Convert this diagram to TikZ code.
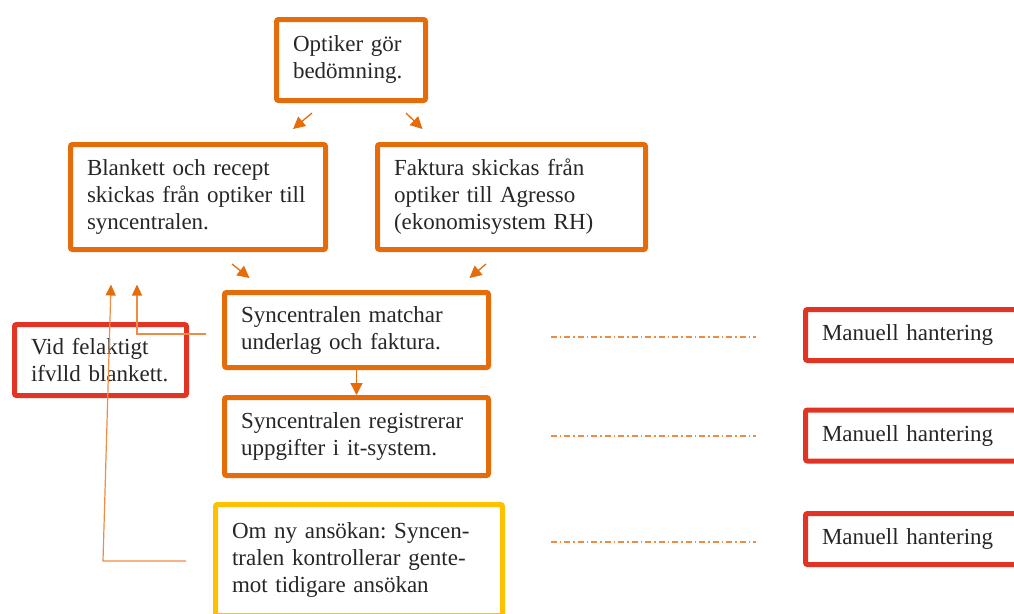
\documentclass[tikz,border=0pt]{standalone}
\usepackage{fontspec}
\setmainfont{Liberation Serif}
\usetikzlibrary{arrows.meta}
\definecolor{boxorange}{RGB}{228,108,10}
\definecolor{linkorange}{RGB}{238,140,70}
\definecolor{boxred}{RGB}{226,52,36}
\definecolor{boxyellow}{RGB}{255,192,0}
\frenchspacing

\begin{document}
\begin{tikzpicture}[x=1pt, y=-1pt, font=\fontsize{23}{27}\selectfont]
\tikzstyle{block}=[draw, line width=5pt, rounded corners=2pt, inner xsep=16.5pt, inner ysep=0pt, align=left, text=black!85]
\tikzstyle{Oblock}=[block, draw=boxorange]
\tikzstyle{Rblock}=[block, draw=boxred]
\tikzstyle{Yblock}=[block, draw=boxyellow]
\tikzstyle{Mblock}=[Rblock, text width=179pt, minimum height=51pt]
\tikzstyle{link}=[draw=boxorange, line width=1.3pt, -{Triangle[length=12pt,width=12pt]}]
\tikzstyle{back}=[draw=linkorange, line width=1.2pt, -{Triangle[length=11pt,width=10pt,color=boxorange]}]
\tikzstyle{dashline}=[draw=linkorange, line width=1.2pt, dash pattern=on 6pt off 3pt on 1.5pt off 3pt]

\useasboundingbox (0,0) rectangle (1014,613);

\node[Oblock, text width=116pt, minimum height=81pt] (opt) at (351,60) {Optiker gör\\bedömning.};
\node[Oblock, text width=222pt, minimum height=105pt] (blank) at (198,197) {Blankett och recept\\skickas från optiker till\\syncentralen.};
\node[Oblock, text width=235pt, minimum height=105pt] (fakt) at (511.5,197) {Faktura skickas från\\optiker till Agresso\\(ekonomisystem RH)};
\node[Oblock, text width=231pt, minimum height=75pt] (match) at (356.5,330) {Syncentralen matchar\\underlag och faktura.};
\node[Oblock, text width=231pt, minimum height=78pt] (reg) at (356.5,436.5) {Syncentralen registrerar\\uppgifter i it-system.};
\node[Yblock, text width=254pt, minimum height=111pt] (ny) at (359,560) {Om ny ansökan: Syncen-\\tralen kontrollerar gente-\\mot tidigare ansökan};
\node[Rblock, text width=139pt, minimum height=71pt] (fel) at (100.5,360) {Vid felaktigt\\ifvlld blankett.};
\node[Mblock] (man1) at (911.5,335) {Manuell hantering};
\node[Mblock] (man2) at (911.5,435.5) {Manuell hantering};
\node[Mblock] (man3) at (911.5,539) {Manuell hantering};

% flow between the boxes
\draw[link] ([xshift=-39pt,yshift=-10pt]opt.south) -- ([xshift=-35pt,yshift=13pt]blank.north east);
\draw[link] ([xshift=55pt,yshift=-10pt]opt.south) -- ([xshift=47.5pt,yshift=13pt]fakt.north west);
\draw[link] ([xshift=34pt,yshift=-12pt]blank.south) -- ([xshift=27.5pt,yshift=12pt]match.north west);
\draw[link] ([xshift=-25.5pt,yshift=-12pt]fakt.south) -- ([xshift=-21.5pt,yshift=12pt]match.north east);
\draw[link] (match.south) -- (reg.north);

% returns to the form
\coordinate (f1) at ([xshift=-16.5pt,yshift=-4pt]match.west);
\coordinate (f1end) at ([xshift=-61pt,yshift=-32.5pt]blank.south);
\coordinate (f2) at ([xshift=-27pt,yshift=-1pt]ny.west);
\coordinate (f2bend) at ([xshift=-95pt]blank.south);
\coordinate (f2end) at ([xshift=-87pt,yshift=-32.5pt]blank.south);
\draw[back] (f1) -| (f1end);
\draw[back] (f2) -- (f2bend |- f2) -- (f2end);

% manual steps
\draw[dashline] ([xshift=-252.5pt,yshift=-2pt]man1.west) -- ([xshift=-47.5pt,yshift=-2pt]man1.west);
\draw[dashline] ([xshift=-252.5pt,yshift=-0.5pt]man2.west) -- ([xshift=-47.5pt,yshift=-0.5pt]man2.west);
\draw[dashline] ([xshift=-252.5pt,yshift=-3pt]man3.west) -- ([xshift=-47.5pt,yshift=-3pt]man3.west);
\end{tikzpicture}
\end{document}
